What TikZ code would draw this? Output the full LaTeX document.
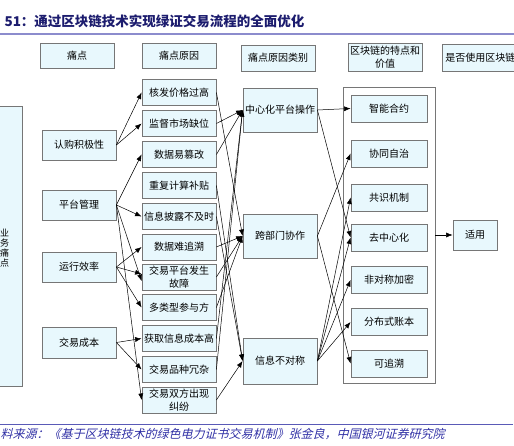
\documentclass[tikz,border=0pt]{standalone}
\usepackage{fontspec}
\setmainfont{Noto Sans CJK SC}
\newfontfamily\slantfont[FakeSlant=0.25]{Noto Sans CJK SC}
\usetikzlibrary{arrows.meta}
\definecolor{boxfill}{RGB}{232,248,253}
\definecolor{boxline}{RGB}{118,118,118}
\definecolor{titleblue}{RGB}{28,28,110}
\definecolor{rulepurple}{RGB}{140,140,205}
\definecolor{srcblue}{RGB}{48,48,165}

\begin{document}
\begin{tikzpicture}[x=1pt, y=-1pt,
    box/.style={rectangle, draw=boxline, line width=0.8pt, fill=boxfill,
                minimum width=74pt, minimum height=26pt, inner sep=1pt,
                align=center, font=\fontsize{10}{12.5}\selectfont},
    featbox/.style={box, minimum width=76pt, minimum height=27pt},
    link/.style={->, >={Latex[length=6.5pt,width=5pt]}, line width=0.5pt}
]
    \useasboundingbox (0,0) rectangle (514,446);
    \clip (0,0) rectangle (514,446);

    % title and rules
    \node[anchor=west, text=titleblue, font=\bfseries\fontsize{13.5}{15}\selectfont] (title) at (1,21.5) {51：通过区块链技术实现绿证交易流程的全面优化};
    \draw[rulepurple, line width=1.2pt] (0,34) -- (514,34);

    % headers
    \node[box, minimum height=25pt] (h1) at (77,56) {痛点};
    \node[box, minimum height=25pt] (h2) at (179,56) {痛点原因};
    \node[box] (h3) at (278,58) {痛点原因类别};
    \node[box, minimum height=28pt] (h4) at (385,57) {区块链的特点和\\价值};
    \node[box, anchor=west, minimum width=76pt, minimum height=27pt] (h5) at (442,57.5) {是否使用区块链};

    % business pain points
    \node[box, minimum width=32pt, minimum height=280pt] (yewu) at (6,246) {};
    \node[align=center, inner sep=0pt, font=\fontsize{9}{10}\selectfont] (yewulabel) at (4.5,248) {业\\务\\痛\\点};

    % pain points
    \node[box, minimum height=30pt] (rengou) at (79,145) {认购积极性};
    \node[box, minimum height=30pt] (pingtai) at (79,205) {平台管理};
    \node[box, minimum height=30pt] (yunxing) at (79,267) {运行效率};
    \node[box, minimum height=31pt] (jiaoyi) at (79,342.5) {交易成本};

    % causes
    \node[box] (hefa) at (179,92.5) {核发价格过高};
    \node[box] (jiandu) at (179,123.5) {监督市场缺位};
    \node[box] (cuangai) at (179,154.5) {数据易篡改};
    \node[box] (chongfu) at (179,185.5) {重复计算补贴};
    \node[box] (pilu) at (179,216.5) {信息披露不及时};
    \node[box] (zhuisu) at (179,247) {数据难追溯};
    \node[box] (guzhang) at (179,277) {交易平台发生\\故障};
    \node[box] (canyu) at (179,307.5) {多类型参与方};
    \node[box] (chengben) at (179,338.5) {获取信息成本高};
    \node[box] (rongza) at (179,369.5) {交易品种冗杂};
    \node[box] (jiufen) at (179,400) {交易双方出现\\纠纷};

    % cause categories
    \node[box, minimum height=44pt] (zhongxin) at (280,110) {中心化平台操作};
    \node[box, minimum height=44pt] (kuabumen) at (280,236) {跨部门协作};
    \node[box, minimum height=46pt] (buduichen) at (280,361) {信息不对称};

    % blockchain features
    \node[draw=boxline, line width=0.8pt, minimum width=92pt, minimum height=296pt] (feat) at (389,235) {};
    \node[featbox] (heyue) at (389,108.5) {智能合约};
    \node[featbox] (zizhi) at (389,153.5) {协同自治};
    \node[featbox] (gongshi) at (389,197.5) {共识机制};
    \node[featbox] (quzhongxin) at (389,237.5) {去中心化};
    \node[featbox] (jiami) at (389,280) {非对称加密};
    \node[featbox] (zhangben) at (389,322) {分布式账本};
    \node[featbox] (kezhuisu) at (389,363.5) {可追溯};

    \node[box, minimum width=44pt, minimum height=30pt] (shiyong) at (475,235) {适用};

    % pain points -> causes
    \draw[link] (rengou.east) -- (hefa.west);
    \draw[link] (rengou.east) -- (jiandu.west);
    \draw[link] (pingtai.east) -- (cuangai.west);
    \draw[link] (pingtai.east) -- (pilu.west);
    \draw[link] (pingtai.east) -- ([yshift=-4pt]guzhang.west);
    \draw[link] (pingtai.east) -- (jiufen.west);
    \draw[link] (yunxing.east) -- (zhuisu.west);
    \draw[link] (yunxing.east) -- ([yshift=3pt]guzhang.west);
    \draw[link] (yunxing.east) -- (canyu.west);
    \draw[link] (jiaoyi.east) -- (chengben.west);
    \draw[link] (jiaoyi.east) -- (rongza.west);

    % causes -> categories
    \draw[link] (jiandu.east) -- (zhongxin.west);
    \draw[link] (cuangai.east) -- (zhongxin.west);
    \draw[link] (chengben.east) -- (zhongxin.west);
    \draw[link] (rongza.east) -- (zhongxin.west);
    \draw[link] (hefa.east) -- (kuabumen.west);
    \draw[link] (zhuisu.east) -- (kuabumen.west);
    \draw[link] (guzhang.east) -- (kuabumen.west);
    \draw[link] (canyu.east) -- (kuabumen.west);
    \draw[link] (chongfu.east) -- (buduichen.west);
    \draw[link] (pilu.east) -- (buduichen.west);
    \draw[link] (jiufen.east) -- (buduichen.west);

    % categories -> features
    \draw[link] (zhongxin.east) -- (heyue.west);
    \draw[link] (zhongxin.east) -- (quzhongxin.west);
    \draw[link] (kuabumen.east) -- (zizhi.west);
    \draw[link] (kuabumen.east) -- (kezhuisu.west);
    \draw[link] (buduichen.east) -- (gongshi.west);
    \draw[link] (buduichen.east) -- (quzhongxin.west);
    \draw[link] (buduichen.east) -- (jiami.west);
    \draw[link] (buduichen.east) -- (zhangben.west);
    \draw[link] (feat.east) -- (shiyong.west);

    % source
    \draw[srcblue!80, line width=1pt] (0,424) -- (513,424);
    \node[anchor=west, text=srcblue, inner sep=0pt, font=\slantfont\fontsize{12}{14}\selectfont] (source) at (0.5,434) {料来源：《基于区块链技术的绿色电力证书交易机制》张金良，中国银河证券研究院};
\end{tikzpicture}
\end{document}
